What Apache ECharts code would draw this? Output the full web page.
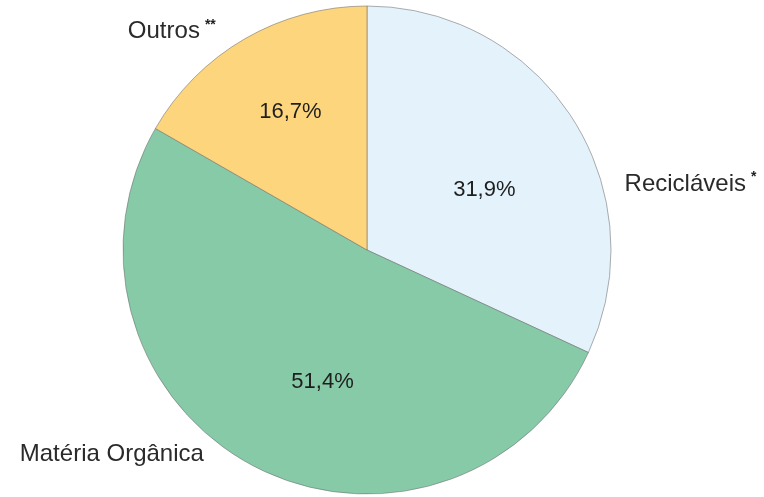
<!doctype html>
<html>
<head>
	<meta charset="UTF-8">
	<title>Resíduos</title>
	<script src="https://cdn.jsdelivr.net/npm/echarts@6/dist/echarts.min.js"></script>
	<style>
		html, body { margin: 0; padding: 0; background: #fff; }
		#pieChart { width: 764px; height: 497px; }
	</style>
</head>
<body>
<div id="pieChart"></div>
<script>
	// dados
	var categorias = ['Recicláveis', 'Matéria Orgânica', 'Outros'];
	var marcas = ['*', '', '**'];
	var valores = [31.9, 51.4, 16.7];
	var cores = ['#e4f2fb', '#87caa7', '#fdd57c'];

	// deslocamentos dos rótulos (ajuste visual)
	var dentroDx = [12, 13, -14];
	var dentroDy = [7, 21, -30];
	var foraDx = [47, -46, -24];
	var foraDy = [66, -12, -7];

	var dados = valores.map(function (v, i) {
		return { name: categorias[i], value: v, itemStyle: { color: cores[i] } };
	});

	var fonte = '"Liberation Sans", Arial, sans-serif';

	var option = {
		animation: false,
		backgroundColor: '#fff',
		series: [{
			type: 'pie',
			center: [367, 250],
			radius: 244,
			startAngle: 90,
			clockwise: true,
			data: dados,
			itemStyle: {
				borderColor: 'rgba(110,110,110,0.55)',
				borderWidth: 1
			},
			label: {
				show: true,
				position: 'inside',
				fontFamily: fonte,
				fontSize: 22,
				color: '#1e1e1e',
				formatter: function (p) {
					return p.value.toFixed(1).replace('.', ',') + '%';
				}
			},
			labelLayout: function (p) {
				return { dx: dentroDx[p.dataIndex], dy: dentroDy[p.dataIndex] };
			},
			emphasis: { disabled: true }
		}, {
			type: 'pie',
			center: [367, 250],
			radius: 244,
			startAngle: 90,
			clockwise: true,
			silent: true,
			data: dados.map(function (d) {
				return { name: d.name, value: d.value, itemStyle: { color: 'rgba(0,0,0,0)', borderWidth: 0 } };
			}),
			label: {
				show: true,
				position: 'outside',
				formatter: function (p) {
					var m = marcas[p.dataIndex];
					return '{n|' + p.name + '}' + (m ? '{s|' + m + '}' : '');
				},
				rich: {
					n: { fontFamily: fonte, fontSize: 24, color: '#2a2a2a' },
					s: { fontFamily: fonte, fontSize: 14, fontWeight: 'bold', color: '#1e1e1e', padding: [0, 0, 14, 5] }
				}
			},
			labelLine: { show: false, length: 0, length2: 0 },
			labelLayout: function (p) {
				return { dx: foraDx[p.dataIndex], dy: foraDy[p.dataIndex] };
			},
			emphasis: { disabled: true }
		}]
	};

	var t = echarts.init(document.getElementById('pieChart'));
	t.setOption(option);
</script>
</body>
</html>
